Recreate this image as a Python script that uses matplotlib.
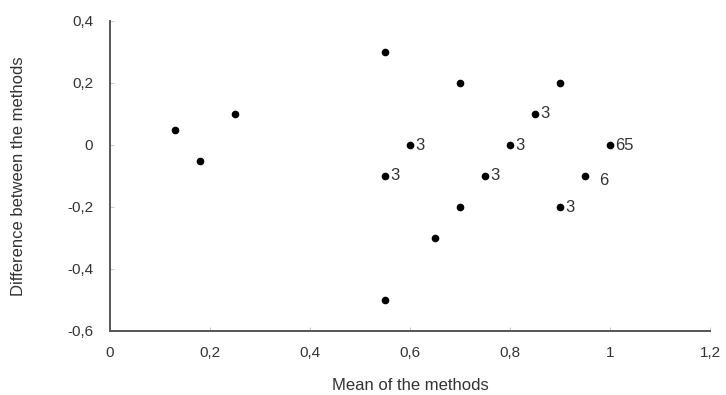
import matplotlib
matplotlib.use('Agg')
import matplotlib.pyplot as plt
from matplotlib.ticker import FuncFormatter

# Bland-Altman style data: mean vs difference, with counts for repeated points
mean_vals = [0.13, 0.18, 0.25, 0.55, 0.55, 0.55, 0.60, 0.65, 0.70, 0.70,
             0.75, 0.80, 0.85, 0.90, 0.90, 0.95, 1.00]
diff_vals = [0.05, -0.05, 0.10, 0.30, -0.10, -0.50, 0.00, -0.30, 0.20, -0.20,
             -0.10, 0.00, 0.10, 0.20, -0.20, -0.10, 0.00]
counts = ['', '', '', '', '3', '', '3', '', '', '',
          '3', '3', '3', '', '3', '6', '65']

plt.rcParams['font.family'] = ['Liberation Sans', 'DejaVu Sans']

fig = plt.figure(figsize=(7.26, 3.95), dpi=100)
ax = fig.add_axes([110/726, 1 - 331/395, 600/726, 310/395])

ax.plot(mean_vals, diff_vals, 'o', color='black', markersize=4.5)
for x, y, c in zip(mean_vals, diff_vals, counts):
    if c:
        dx, dy = (10, -3) if c == '6' else (3.5, 0)
        ax.annotate(c, (x, y), xytext=(dx, dy), textcoords='offset points',
                    va='center', ha='left', fontsize=12, color='#333333')

ax.set_xlim(0, 1.2)
ax.set_ylim(-0.6, 0.4)
ax.set_xticks([0, 0.2, 0.4, 0.6, 0.8, 1.0, 1.2])
ax.set_yticks([-0.6, -0.4, -0.2, 0, 0.2, 0.4])
fmt = FuncFormatter(lambda v, p: ('%g' % round(v, 2)).replace('.', ','))
ax.xaxis.set_major_formatter(fmt)
ax.yaxis.set_major_formatter(fmt)

for s in ['top', 'right']:
    ax.spines[s].set_visible(False)
for s in ['left', 'bottom']:
    ax.spines[s].set_color('#555555')
    ax.spines[s].set_linewidth(1.4)
ax.tick_params(direction='in', length=3, color='#cccccc', labelsize=11,
               labelcolor='#333333')
ax.tick_params(axis='y', pad=12)
ax.tick_params(axis='x', pad=11)

ax.set_xlabel('Mean of the methods', fontsize=12, color='#333333', labelpad=13)
ax.set_ylabel('Difference between the methods', fontsize=12, color='#333333', labelpad=30)

fig.savefig('out.png', dpi=100)
